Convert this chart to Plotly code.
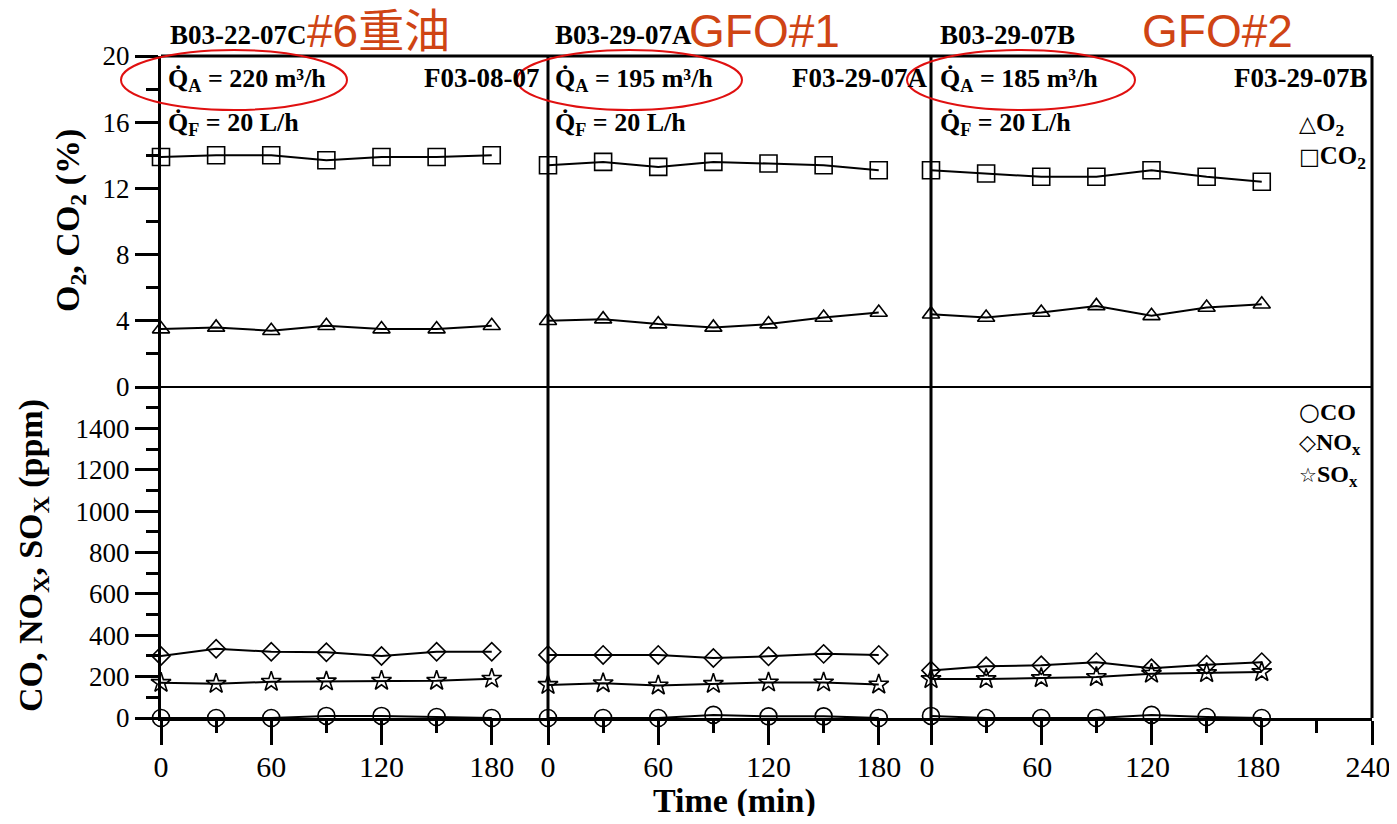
import plotly.graph_objects as go

# ---------------- data ----------------
time_min = [0, 30, 60, 90, 120, 150, 180]

o2_p1 = [3.5, 3.6, 3.4, 3.7, 3.5, 3.5, 3.7]
co2_p1 = [13.9, 14.0, 14.0, 13.7, 13.9, 13.9, 14.0]
co_p1 = [0, 0, 0, 10, 10, 5, 0]
nox_p1 = [300, 335, 320, 318, 300, 320, 320]
sox_p1 = [170, 165, 175, 177, 180, 180, 190]

o2_p2 = [4.0, 4.1, 3.8, 3.6, 3.8, 4.2, 4.5]
co2_p2 = [13.4, 13.6, 13.3, 13.6, 13.5, 13.4, 13.1]
co_p2 = [0, 0, 0, 15, 8, 8, 0]
nox_p2 = [305, 305, 305, 290, 298, 310, 305]
sox_p2 = [160, 168, 157, 165, 172, 172, 162]

o2_p3 = [4.4, 4.2, 4.5, 4.9, 4.3, 4.8, 5.0]
co2_p3 = [13.1, 12.9, 12.7, 12.7, 13.1, 12.7, 12.4]
co_p3 = [10, 0, 0, 0, 15, 5, 0]
nox_p3 = [230, 250, 255, 270, 240, 258, 270]
sox_p3 = [188, 188, 193, 198, 214, 217, 222]

run_ids = ["B03-22-07C", "B03-29-07A", "B03-29-07B"]
fuel_names = ["#6重油", "GFO#1", "GFO#2"]
flue_ids = ["F03-08-07", "F03-29-07A", "F03-29-07B"]
air_flows = ["220", "195", "185"]
fuel_flow = "20"

x_major_ticks = [0, 60, 120, 180]
x_minor_ticks = [30, 90, 150]
x_major_ticks_last = [0, 60, 120, 180, 240]
x_minor_ticks_last = [30, 90, 150, 210]
y_top_ticks = [0, 4, 8, 12, 16, 20]
y_bot_ticks = [0, 200, 400, 600, 800, 1000, 1200, 1400]

# ---------------- layout geometry (screen pixels) ----------------
WIN_W, WIN_H = 1397, 824
OFF = 8                      # default body margin of the html page
FW, FH = WIN_W - 2 * OFF, WIN_H - 2 * OFF
L, R, T, B = 161, 1372, 56, 718
W, H = R - L, B - T
P2X, P3X = 548, 931          # screen x of time 0 for panel 2 and 3
SCALE = (R - P3X) / 240.0    # pixels per minute


def px(x):
    return (x - L) / W


def py(y):
    return (B - y) / H


SERIF = "Liberation Serif, Times New Roman, serif"
SANS = "Liberation Sans, Arial, Noto Sans CJK TC, sans-serif"
RED_TXT = "#CF4414"

fig = go.Figure()

panels = [
    (o2_p1, co2_p1, co_p1, nox_p1, sox_p1),
    (o2_p2, co2_p2, co_p2, nox_p2, sox_p2),
    (o2_p3, co2_p3, co_p3, nox_p3, sox_p3),
]
xnames = ["x", "x2", "x3"]

line_style = dict(color="black", width=2)


def add(xs, ys, xa, ya, symbol, size, name):
    fig.add_trace(go.Scatter(
        x=xs, y=ys, xaxis=xa, yaxis=ya, mode="lines+markers", name=name,
        line=line_style, cliponaxis=False, showlegend=False,
        marker=dict(symbol=symbol, size=size, color="black",
                    line=dict(color="black", width=1.6)),
    ))


for i, (o2, co2, co, nox, sox) in enumerate(panels):
    xa = xnames[i]
    add(time_min, co2, xa, "y", "square-open", 17, "CO2")
    add(time_min, o2, xa, "y", "triangle-up-open", 15, "O2")
    add(time_min, nox, xa, "y2", "diamond-open", 14, "NOx")
    add(time_min, sox, xa, "y2", "star-open", 15, "SOx")
    add(time_min, co, xa, "y2", "circle-open", 17, "CO")

xaxis_common = dict(
    showline=True, linecolor="black", linewidth=3, mirror=False,
    ticks="outside", ticklen=24, tickwidth=3, tickcolor="black",
    showgrid=False, zeroline=False, anchor="y2", ticklabelstandoff=-4,
    ticklabeloverflow="allow", automargin=False,
    tickfont=dict(family=SERIF, size=30, color="black"),
)
minor_x = dict(ticks="outside", ticklen=12, tickwidth=3, tickcolor="black", showgrid=False)

d1 = px(P2X)
d2 = px(P3X)
fig.update_layout(
    xaxis=dict(domain=[0, d1], range=[0, (P2X - L) / SCALE], tickvals=x_major_ticks,
               minor=dict(tickvals=x_minor_ticks, **minor_x), **xaxis_common),
    xaxis2=dict(domain=[d1, d2], range=[0, (P3X - P2X) / SCALE], tickvals=x_major_ticks,
                minor=dict(tickvals=x_minor_ticks, **minor_x), **xaxis_common),
    xaxis3=dict(domain=[d2, 1], range=[0, 240], tickvals=x_major_ticks_last,
                ticklabelshift=-4,
                minor=dict(tickvals=x_minor_ticks_last, **minor_x), **xaxis_common),
    yaxis=dict(domain=[0.5, 1], range=[0, 20], tickvals=y_top_ticks, anchor="x",
               showline=True, linecolor="black", linewidth=3, automargin=False,
               ticks="outside", ticklen=23, tickwidth=3, tickcolor="black",
               minor=dict(dtick=2, tick0=0, ticks="outside", ticklen=12, tickwidth=3,
                          tickcolor="black", showgrid=False),
               showgrid=False, zeroline=False,
               tickfont=dict(family=SERIF, size=27, color="black")),
    yaxis2=dict(domain=[0, 0.5], range=[0, 1600], tickvals=y_bot_ticks, anchor="x",
                showline=True, linecolor="black", linewidth=3, automargin=False,
                ticks="outside", ticklen=23, tickwidth=3, tickcolor="black",
                minor=dict(dtick=100, tick0=0, ticks="outside", ticklen=12, tickwidth=3,
                           tickcolor="black", showgrid=False),
                showgrid=False, zeroline=False,
                tickfont=dict(family=SERIF, size=27, color="black")),
    width=FW, height=FH,
    margin=dict(l=L - OFF, r=(OFF + FW) - R, t=T - OFF, b=(OFF + FH) - B),
    plot_bgcolor="white", paper_bgcolor="white",
    showlegend=False,
)

# frame lines
shapes = [
    dict(type="line", xref="paper", yref="paper", x0=0, x1=1, y0=1, y1=1,
         line=dict(color="black", width=3)),
    dict(type="line", xref="paper", yref="paper", x0=0, x1=1, y0=0.5, y1=0.5,
         line=dict(color="black", width=2)),
    dict(type="line", xref="paper", yref="paper", x0=1, x1=1, y0=0, y1=1,
         line=dict(color="black", width=3)),
]
for xd in [d1, d2]:
    shapes.append(dict(type="line", xref="paper", yref="paper", x0=xd, x1=xd, y0=0, y1=1,
                       line=dict(color="black", width=3)))
# red ellipses around air flow labels
for (x0, x1) in [(121, 347), (517, 742), (907, 1135)]:
    shapes.append(dict(type="circle", xref="paper", yref="paper",
                       x0=px(x0), x1=px(x1), y0=py(110), y1=py(50),
                       line=dict(color="#E01010", width=2)))
fig.update_layout(shapes=shapes)

ann = []


def text(x, y, s, size, family=SERIF, color="black", xanchor="left", angle=0):
    ann.append(dict(x=px(x), y=py(y), xref="paper", yref="paper", text=s,
                    showarrow=False, xanchor=xanchor, yanchor="middle",
                    textangle=angle,
                    font=dict(family=family, size=size, color=color)))


# top labels
id_left = [168, 553, 938]
fuel_left = [305, 687, 1140]
for i in range(3):
    text(id_left[i], 35, "<b>%s</b>" % run_ids[i], 27)
    text(fuel_left[i], 31, fuel_names[i], 46, family=SANS, color=RED_TXT)

# inside panel labels
q_left = [166, 553, 938]
f_right = [541, 929, 1369]
for i in range(3):
    text(q_left[i], 80, "<b>Q\u0307<sub>A</sub> = %s m\u00b3/h</b>" % air_flows[i], 26)
    text(q_left[i], 124, "<b>Q\u0307<sub>F</sub> = %s L/h</b>" % fuel_flow, 26)
    text(f_right[i], 78, "<b>%s</b>" % flue_ids[i], 27, xanchor="right")

# legend-like labels
GLYPH = '<span style="font-family:DejaVu Sans;font-size:%dpx">%s</span>'
text(1297, 125, GLYPH % (22, "\u25B3") + "<b>O<sub>2</sub></b>", 25)
text(1297, 157, GLYPH % (22, "\u25A1") + "<b>CO<sub>2</sub></b>", 25)
text(1297, 412, GLYPH % (24, "\u25CB") + "<b>CO</b>", 24)
text(1297, 444, GLYPH % (22, "\u25C7") + "<b>NO<sub>x</sub></b>", 24)
text(1297, 476, GLYPH % (20, "\u2606") + "<b>SO<sub>x</sub></b>", 24)

# axis titles
ann.append(dict(x=px(70), y=py(221), xref="paper", yref="paper",
                text="<b>O<sub>2</sub>, CO<sub>2</sub> (%)</b>", showarrow=False,
                textangle=-90, xanchor="center", yanchor="middle",
                font=dict(family=SERIF, size=34, color="black")))
ann.append(dict(x=px(33), y=py(556), xref="paper", yref="paper",
                text="<b>CO, NO<sub>X</sub>, SO<sub>X</sub> (ppm)</b>", showarrow=False,
                textangle=-90, xanchor="center", yanchor="middle",
                font=dict(family=SERIF, size=34, color="black")))
ann.append(dict(x=px(734), y=py(801), xref="paper", yref="paper",
                text="<b>Time (min)</b>", showarrow=False,
                xanchor="center", yanchor="middle",
                font=dict(family=SERIF, size=34, color="black")))

fig.update_layout(annotations=ann)

fig.write_html("out.html")
